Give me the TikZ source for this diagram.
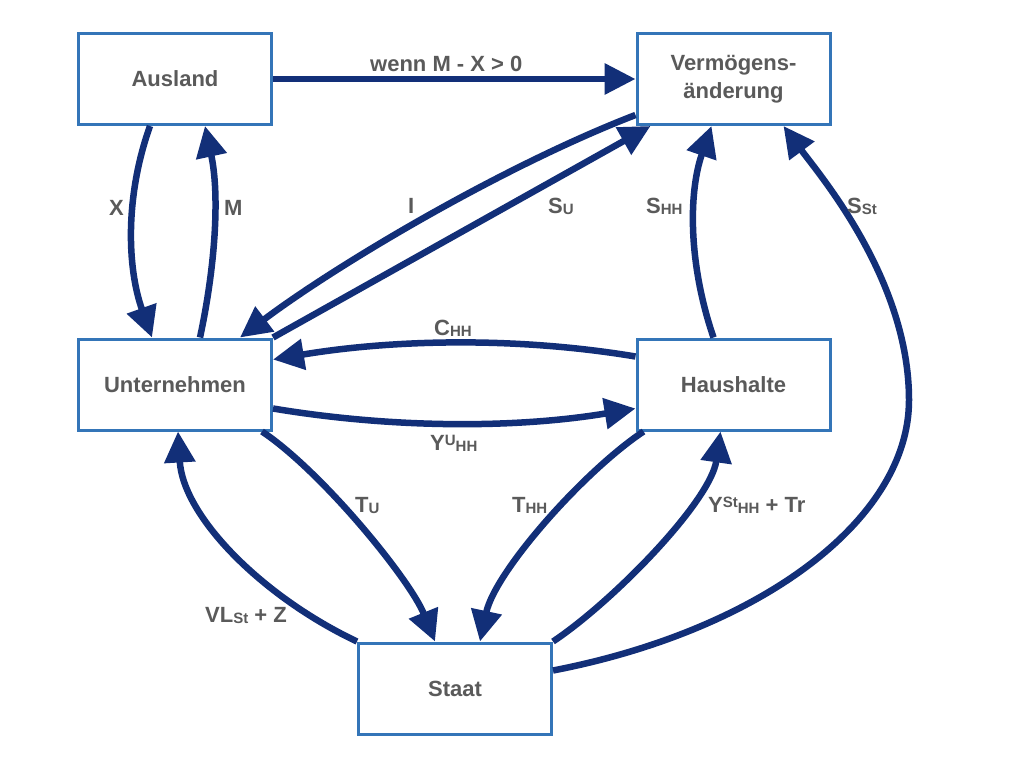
\documentclass[tikz,border=0pt]{standalone}
\usepackage{fontspec}
\setmainfont{Liberation Sans}
\usetikzlibrary{arrows.meta}
\definecolor{navy}{RGB}{18,47,120}
\definecolor{boxblue}{RGB}{52,117,184}
\definecolor{txtgray}{RGB}{90,90,90}
\newcommand{\subx}[1]{\raisebox{-1.5pt}{\fontsize{15}{15}\selectfont #1}}
\newcommand{\supx}[1]{\raisebox{5pt}{\fontsize{15}{15}\selectfont #1}}
\begin{document}
\begin{tikzpicture}[x=1pt,y=-1pt,
  box/.style={draw=boxblue, line width=3pt, fill=white, minimum width=193pt, minimum height=91pt, align=center, text=txtgray, font=\fontsize{22}{28}\selectfont\bfseries},
  arr/.style={draw=navy, line width=6.5pt, -{Triangle[length=31pt,width=30pt]}},
  lab/.style={anchor=base west, inner sep=0pt, text=txtgray, font=\fontsize{22}{26}\selectfont\bfseries}]
\useasboundingbox[fill=white] (0,0) rectangle (1024,768);

\node[box] (aus) at (175,79) {Ausland};
\node[box] (verm) at (733.5,79) {Vermögens-\\änderung};
\node[box] (unt) at (175,384.5) {Unternehmen};
\node[box] (haus) at (733.5,384.5) {Haushalte};
\node[box] (staat) at (455,688.5) {Staat};
\coordinate (sst) at (909,400);

% connectors
\draw[arr] (aus.east) -- (verm.west);
\draw[arr] ([xshift=-25pt]aus.south) .. controls +(-25,70) and +(-25,-70) .. ([xshift=-23pt]unt.north);
\draw[arr] ([xshift=25pt]unt.north) .. controls +(15,-70) and +(15,70) .. ([xshift=30pt]aus.south);
\draw[arr] ([yshift=-36pt]verm.west) .. controls +(-130,50) and +(100,-75) .. ([xshift=65pt]unt.north);
\draw[arr] (unt.north east) -- ([xshift=-83pt]verm.south);
\draw[arr] ([xshift=-20pt]haus.north) .. controls +(-24,-70) and +(-24,70) .. ([xshift=-22pt]verm.south);
\draw[arr] ([yshift=18pt]staat.east) .. controls +(207,-40) and +(0,120) .. (sst) .. controls +(0,-120) and +(37,50) .. ([xshift=50pt]verm.south);
\draw[arr] ([yshift=28pt]haus.west) .. controls +(-120,-20) and +(120,-20) .. ([yshift=25pt]unt.east);
\draw[arr] ([yshift=-24pt]unt.east) .. controls +(120,20) and +(-120,20) .. ([yshift=-24pt]haus.west);
\draw[arr] ([xshift=87pt]unt.south) .. controls +(60,40) and +(-25,-62) .. ([xshift=-20pt]staat.north);
\draw[arr] (staat.north west) .. controls +(-95,-45) and +(5,85) .. ([xshift=3pt]unt.south);
\draw[arr] ([xshift=-90pt]haus.south) .. controls +(-60,40) and +(15,-70) .. ([xshift=25pt]staat.north);
\draw[arr] (staat.north east) .. controls +(60,-40) and +(-10,70) .. ([xshift=-13pt]haus.south);

% labels
\node[lab] (lwenn) at (370,71) {wenn M - X > 0};
\node[lab] (lx) at (109,215) {X};
\node[lab] (lm) at (224,215) {M};
\node[lab] (li) at (408,213) {I};
\node[lab] (lsu) at (548,213) {S\subx{U}};
\node[lab] (lshh) at (646,213) {S\subx{HH}};
\node[lab] (lsst) at (847,213) {S\subx{St}};
\node[lab] (lchh) at (434,335) {C\subx{HH}};
\node[lab] (lyu) at (430,450) {Y\supx{U}\subx{HH}};
\node[lab] (ltu) at (355,512) {T\subx{U}};
\node[lab] (lvl) at (205,622) {VL\subx{St} + Z};
\node[lab] (lthh) at (512,512) {T\subx{HH}};
\node[lab] (lyst) at (708,512) {Y\supx{St}\subx{HH} + Tr};
\end{tikzpicture}
\end{document}
